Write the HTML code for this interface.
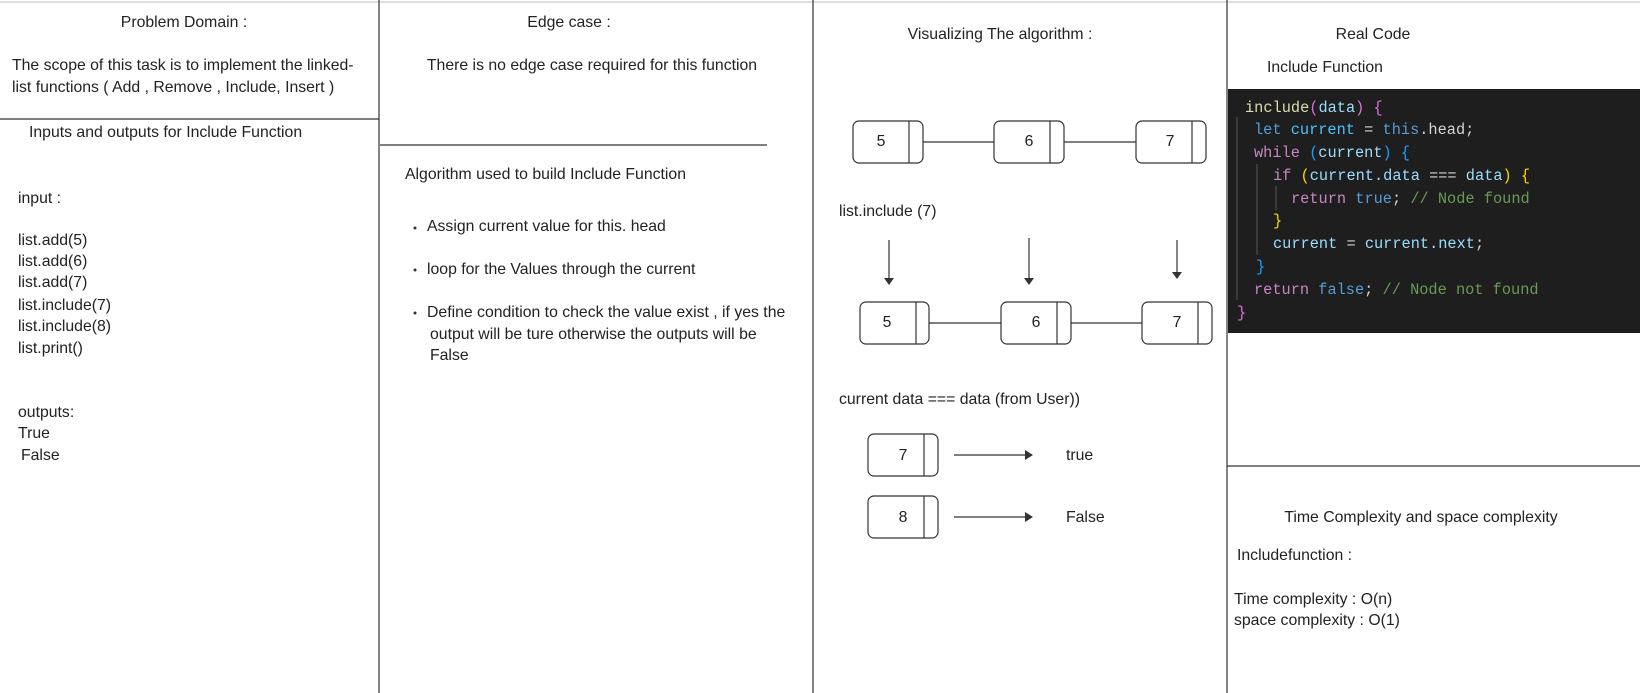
<!DOCTYPE html>
<html><head><meta charset="utf-8"><style>
html,body{margin:0;padding:0;background:#fff;}
svg{display:block;}
.t{font-family:"Liberation Sans",sans-serif;font-size:15.8px;fill:#222;dominant-baseline:middle;}
.c{font-family:"Liberation Mono",monospace;font-size:15.3px;dominant-baseline:middle;white-space:pre;}
</style></head><body>
<svg width="1640" height="693" viewBox="0 0 1640 693" xmlns="http://www.w3.org/2000/svg">
<g stroke="#333" stroke-width="1.2" fill="none">
<line x1="0" y1="2" x2="1640" y2="2" stroke="#ccc"/>
<line x1="379" y1="0" x2="379" y2="693"/>
<line x1="813" y1="0" x2="813" y2="693"/>
<line x1="1227" y1="0" x2="1227" y2="693"/>
<line x1="0" y1="119" x2="379" y2="119"/>
<line x1="380" y1="145" x2="767" y2="145"/>
<line x1="1227" y1="466" x2="1640" y2="466"/>
</g>
<!-- col1 -->
<text class="t" x="184" y="23" text-anchor="middle">Problem Domain :</text>
<text class="t" x="12" y="66">The scope of this task is to implement the linked-</text>
<text class="t" x="12" y="88">list functions ( Add , Remove , Include, Insert )</text>
<text class="t" x="29" y="133">Inputs and outputs for Include Function</text>
<text class="t" x="18" y="199">input :</text>
<text class="t" x="18" y="241">list.add(5)</text>
<text class="t" x="18" y="262">list.add(6)</text>
<text class="t" x="18" y="283">list.add(7)</text>
<text class="t" x="18" y="306">list.include(7)</text>
<text class="t" x="18" y="327">list.include(8)</text>
<text class="t" x="18" y="349">list.print()</text>
<text class="t" x="18" y="413">outputs:</text>
<text class="t" x="18" y="434">True</text>
<text class="t" x="21" y="456">False</text>
<!-- col2 -->
<text class="t" x="569" y="23" text-anchor="middle">Edge case :</text>
<text class="t" x="592" y="66" text-anchor="middle">There is no edge case required for this function</text>
<text class="t" x="405" y="175">Algorithm used to build Include Function</text>
<g fill="#333"><circle cx="415" cy="228" r="1.5"/><circle cx="415" cy="270" r="1.5"/><circle cx="415" cy="313" r="1.5"/></g>
<text class="t" x="427" y="227">Assign current value for this. head</text>
<text class="t" x="427" y="270">loop for the Values through the current</text>
<text class="t" x="427" y="313">Define condition to check the value exist , if yes the</text>
<text class="t" x="430" y="335">output will be ture otherwise the outputs will be</text>
<text class="t" x="430" y="356">False</text>
<!-- col3 -->
<text class="t" x="1000" y="35" text-anchor="middle">Visualizing The algorithm :</text>
<g stroke="#333" stroke-width="1.2" fill="none">
<rect x="853" y="121" width="70" height="42" rx="6"/><line x1="909" y1="121" x2="909" y2="163"/>
<rect x="994" y="121" width="70" height="42" rx="6"/><line x1="1050" y1="121" x2="1050" y2="163"/>
<rect x="1136" y="121" width="70" height="42" rx="6"/><line x1="1192" y1="121" x2="1192" y2="163"/>
<line x1="923" y1="142" x2="994" y2="142"/><line x1="1064" y1="142" x2="1136" y2="142"/>
<rect x="860" y="302" width="69" height="42" rx="6"/><line x1="916" y1="302" x2="916" y2="344"/>
<rect x="1001" y="302" width="70" height="42" rx="6"/><line x1="1057" y1="302" x2="1057" y2="344"/>
<rect x="1142" y="302" width="70" height="42" rx="6"/><line x1="1198" y1="302" x2="1198" y2="344"/>
<line x1="929" y1="323" x2="1001" y2="323"/><line x1="1071" y1="323" x2="1142" y2="323"/>
<line x1="889" y1="240" x2="889" y2="278"/><line x1="1029" y1="238" x2="1029" y2="278"/><line x1="1177" y1="240" x2="1177" y2="272"/>
<rect x="868" y="434" width="70" height="42" rx="6"/><line x1="924" y1="434" x2="924" y2="476"/>
<rect x="868" y="496" width="70" height="42" rx="6"/><line x1="924" y1="496" x2="924" y2="538"/>
<line x1="954" y1="455" x2="1026" y2="455"/><line x1="954" y1="517" x2="1026" y2="517"/>
</g>
<g fill="#333">
<polygon points="884,278 894,278 889,285"/><polygon points="1024,278 1034,278 1029,285"/><polygon points="1172,272 1182,272 1177,279"/>
<polygon points="1025,450 1033,455 1025,460"/><polygon points="1025,512 1033,517 1025,522"/>
</g>
<text class="t" x="881" y="142" text-anchor="middle">5</text>
<text class="t" x="1029" y="142" text-anchor="middle">6</text>
<text class="t" x="1170" y="142" text-anchor="middle">7</text>
<text class="t" x="887" y="323" text-anchor="middle">5</text>
<text class="t" x="1036" y="323" text-anchor="middle">6</text>
<text class="t" x="1177" y="323" text-anchor="middle">7</text>
<text class="t" x="839" y="212">list.include (7)</text>
<text class="t" x="839" y="400">current data === data (from User))</text>
<text class="t" x="903" y="456" text-anchor="middle">7</text>
<text class="t" x="903" y="518" text-anchor="middle">8</text>
<text class="t" x="1066" y="456">true</text>
<text class="t" x="1066" y="518">False</text>
<!-- col4 -->
<text class="t" x="1373" y="35" text-anchor="middle">Real Code</text>
<text class="t" x="1267" y="68">Include Function</text>
<rect x="1228" y="89" width="412" height="244" fill="#1e1e1e"/>
<g stroke="#555" stroke-width="1"><line x1="1237" y1="117" x2="1237" y2="300"/><line x1="1257" y1="164" x2="1257" y2="255"/><line x1="1276" y1="186" x2="1276" y2="210"/></g>
<text class="c" y="108"><tspan x="1245" fill="#DCDCAA">include</tspan><tspan fill="#DA70D6">(</tspan><tspan fill="#9CDCFE">data</tspan><tspan fill="#DA70D6">) {</tspan></text>
<text class="c" y="130"><tspan x="1254" fill="#569CD6">let </tspan><tspan fill="#4FC1FF">current</tspan><tspan fill="#d4d4d4"> = </tspan><tspan fill="#569CD6">this</tspan><tspan fill="#d4d4d4">.head;</tspan></text>
<text class="c" y="153"><tspan x="1254" fill="#C586C0">while </tspan><tspan fill="#179FFF">(</tspan><tspan fill="#9CDCFE">current</tspan><tspan fill="#179FFF">) {</tspan></text>
<text class="c" y="176"><tspan x="1273" fill="#C586C0">if </tspan><tspan fill="#FFD700">(</tspan><tspan fill="#9CDCFE">current.data</tspan><tspan fill="#d4d4d4"> === </tspan><tspan fill="#9CDCFE">data</tspan><tspan fill="#FFD700">) {</tspan></text>
<text class="c" y="199"><tspan x="1291" fill="#C586C0">return </tspan><tspan fill="#569CD6">true</tspan><tspan fill="#d4d4d4">; </tspan><tspan fill="#6A9955">// Node found</tspan></text>
<text class="c" y="221"><tspan x="1273" fill="#FFD700">}</tspan></text>
<text class="c" y="244"><tspan x="1273" fill="#9CDCFE">current</tspan><tspan fill="#d4d4d4"> = </tspan><tspan fill="#9CDCFE">current.next</tspan><tspan fill="#d4d4d4">;</tspan></text>
<text class="c" y="267"><tspan x="1256" fill="#179FFF">}</tspan></text>
<text class="c" y="290"><tspan x="1254" fill="#C586C0">return </tspan><tspan fill="#569CD6">false</tspan><tspan fill="#d4d4d4">; </tspan><tspan fill="#6A9955">// Node not found</tspan></text>
<text class="c" y="313"><tspan x="1237" fill="#DA70D6">}</tspan></text>
<text class="t" x="1421" y="518" text-anchor="middle">Time Complexity and space complexity</text>
<text class="t" x="1237" y="556">Includefunction :</text>
<text class="t" x="1234" y="600">Time complexity : O(n)</text>
<text class="t" x="1234" y="621">space complexity : O(1)</text>
</svg>
</body></html>
